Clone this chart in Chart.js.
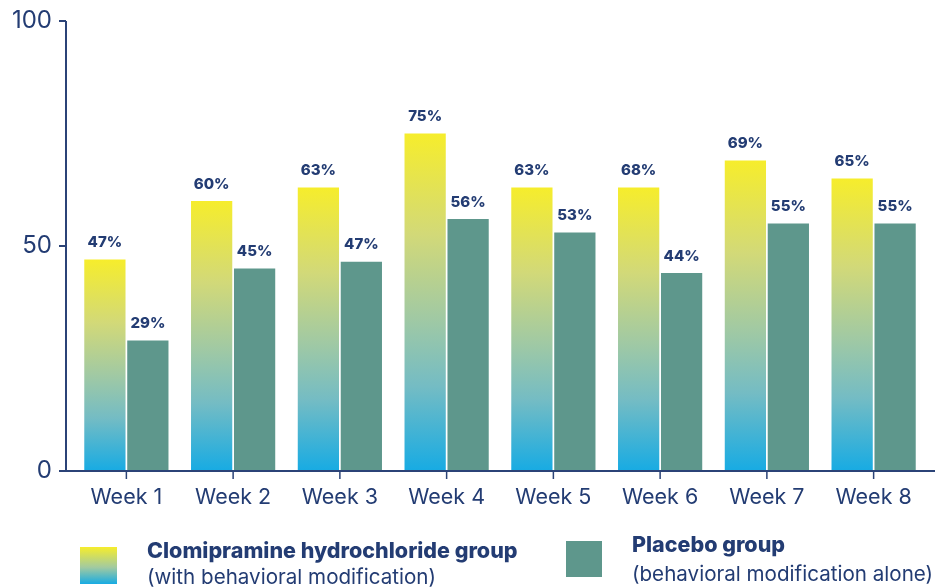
<!DOCTYPE html>
<html>
<head>
<meta charset="utf-8">
<script src="https://cdn.jsdelivr.net/npm/chart.js@4/dist/chart.umd.min.js"></script>
<style>
  html, body { margin: 0; padding: 0; background: #fff; }
  #wrap { position: relative; width: 935px; height: 587px; overflow: hidden; }
  canvas { position: absolute; left: 0; top: 0; }
  .legend-box { position: absolute; }
  .legend-text { position: absolute; font-family: Inter, 'Noto Sans', sans-serif; color: #233c73; font-size: 20.6px; line-height: 26px; white-space: nowrap; }
  .legend-text b { font-weight: 800; font-size: 21.5px; }
</style>
</head>
<body>
<div id="wrap">
  <canvas id="chart" width="935" height="587"></canvas>
  <div class="legend-box" style="left:80px;top:547px;width:37px;height:37px;background:linear-gradient(#f6ed2c,#a2caa0 55%,#17abe3);"></div>
  <div class="legend-text" style="left:147px;top:537px;"><b>Clomipramine hydrochloride group</b><br>(with behavioral modification)</div>
  <div class="legend-box" style="left:566px;top:541px;width:36px;height:36px;background:#5e978c;"></div>
  <div class="legend-text" style="left:632px;top:531px;"><b>Placebo group</b><br><span style="position:relative;top:3px">(behavioral modification alone)</span></div>
</div>
<script>
const weeks = ['Week 1', 'Week 2', 'Week 3', 'Week 4', 'Week 5', 'Week 6', 'Week 7', 'Week 8'];
const clomiValues = [47, 60, 63, 75, 63, 63, 69, 65];
const placeboValues = [29, 45, 46.5, 56, 53, 44, 55, 55];
const clomiLabels = ['47%', '60%', '63%', '75%', '63%', '68%', '69%', '65%'];
const placeboLabels = ['29%', '45%', '47%', '56%', '53%', '44%', '55%', '55%'];
const yTicks = [0, 50, 100];

const navy = '#233c73';
const axisColor = '#2b4377';

function barGradient(context) {
  const chart = context.chart;
  const { ctx, chartArea, scales } = chart;
  if (!chartArea || context.type !== 'data') return '#f6ed2c';
  const top = scales.y.getPixelForValue(context.raw);
  const bottom = scales.y.getPixelForValue(0);
  const g = ctx.createLinearGradient(0, top, 0, bottom);
  g.addColorStop(0, '#f6ed2c');
  g.addColorStop(0.3, '#d2d978');
  g.addColorStop(0.55, '#a0c9a4');
  g.addColorStop(0.75, '#74bcc4');
  g.addColorStop(1, '#17abe3');
  return g;
}

const axisPlugin = {
  id: 'axisPlugin',
  afterDraw(chart) {
    const { ctx, chartArea, scales } = chart;
    const axisX = chartArea.left - 7;
    ctx.save();
    ctx.strokeStyle = axisColor;
    ctx.lineWidth = 2;
    // y axis line
    ctx.beginPath();
    ctx.moveTo(axisX, scales.y.getPixelForValue(100));
    ctx.lineTo(axisX, scales.y.getPixelForValue(0));
    ctx.stroke();
    // y tick marks
    yTicks.forEach(v => {
      const y = scales.y.getPixelForValue(v);
      ctx.beginPath();
      ctx.moveTo(axisX - 7, y);
      ctx.lineTo(axisX, y);
      ctx.stroke();
    });
    // x axis line
    const y0 = scales.y.getPixelForValue(0);
    ctx.beginPath();
    ctx.moveTo(axisX, y0);
    ctx.lineTo(chart.width, y0);
    ctx.stroke();
    // x tick marks
    ctx.lineWidth = 1.5;
    weeks.forEach((w, i) => {
      const x = scales.x.getPixelForValue(i);
      ctx.beginPath();
      ctx.moveTo(x, y0);
      ctx.lineTo(x, y0 + 8);
      ctx.stroke();
    });
    // value labels
    ctx.fillStyle = navy;
    ctx.font = '800 15px Inter, "Noto Sans", sans-serif';
    ctx.textAlign = 'center';
    ctx.textBaseline = 'middle';
    [clomiLabels, placeboLabels].forEach((labels, di) => {
      chart.getDatasetMeta(di).data.forEach((bar, i) => {
        ctx.fillText(labels[i], bar.x, bar.y - 17);
      });
    });
    ctx.restore();
  }
};

new Chart(document.getElementById('chart'), {
  type: 'bar',
  data: {
    labels: weeks,
    datasets: [
      { label: 'Clomipramine hydrochloride group', data: clomiValues, backgroundColor: barGradient },
      { label: 'Placebo group', data: placeboValues, backgroundColor: '#5e978c' }
    ]
  },
  options: {
    responsive: false,
    animation: false,
    layout: { padding: { top: 21, right: 8, left: 0, bottom: 0 } },
    datasets: { bar: { categoryPercentage: 0.805, barPercentage: 0.96 } },
    plugins: { legend: { display: false }, tooltip: { enabled: false } },
    scales: {
      x: {
        grid: { display: false, drawTicks: false },
        border: { display: false },
        ticks: { color: navy, padding: 14, font: { family: 'Inter, "Noto Sans", sans-serif', size: 21.5 } },
        afterFit(scale) { scale.height = 116; scale.paddingLeft = 0; scale.paddingRight = 0; }
      },
      y: {
        min: 0,
        max: 100,
        grid: { display: false, drawTicks: false },
        border: { display: false },
        afterBuildTicks(scale) { scale.ticks = yTicks.map(v => ({ value: v })); },
        ticks: { color: navy, padding: 21, font: { family: 'Inter, "Noto Sans", sans-serif', size: 24 } },
        afterFit(scale) { scale.width = 73; scale.paddingTop = 0; scale.paddingBottom = 0; }
      }
    }
  },
  plugins: [axisPlugin]
});
</script>
</body>
</html>
